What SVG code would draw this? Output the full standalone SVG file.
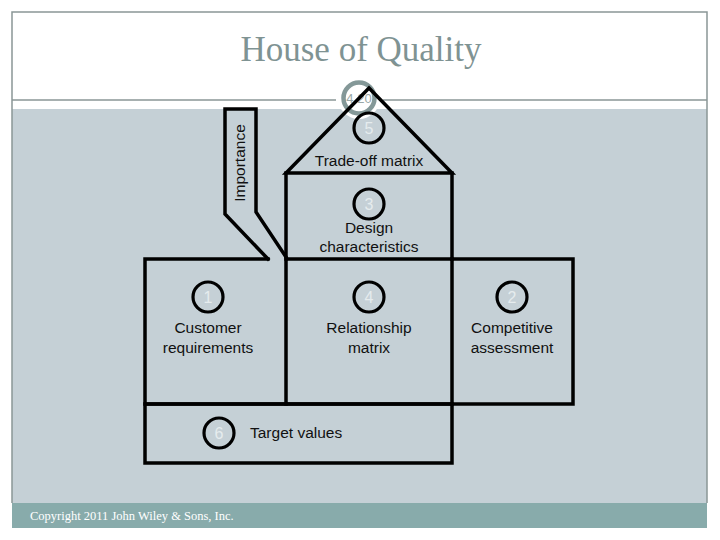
<svg xmlns="http://www.w3.org/2000/svg" width="720" height="540" viewBox="0 0 720 540">
<style>
.ln{fill:none;stroke:#000;stroke-width:3.5;stroke-linejoin:miter;stroke-linecap:square}
.c{fill:none;stroke:#000;stroke-width:3.2}
.num{font-family:"Liberation Sans",Arial,sans-serif;font-size:16px;fill:#e6ecee;text-anchor:middle}
.lbl{font-family:"Liberation Sans",Arial,sans-serif;font-size:15.5px;fill:#111;text-anchor:middle}
.lbl.start{text-anchor:start}
</style>
<rect x="0" y="0" width="720" height="540" fill="#fff"/>
<rect x="12" y="109" width="695" height="394" fill="#c5d0d6"/>
<rect x="12" y="503" width="695" height="25" fill="#88abab"/>
<g id="frame" fill="none" stroke="#8a9696" stroke-width="1.5">
<polyline points="12,503 12,12 707,12 707,503"/>
<line x1="12" y1="100" x2="336" y2="100"/>
<line x1="383" y1="100" x2="707" y2="100"/>
</g>
<text x="361" y="61" font-family="Liberation Serif,Times New Roman,serif" font-size="35" fill="#7f9393" text-anchor="middle">House of Quality</text>
<text x="30" y="520" font-family="Liberation Serif,Times New Roman,serif" font-size="12.5" fill="#ffffff">Copyright 2011 John Wiley &amp; Sons, Inc.</text>
<g id="marker420">
<circle cx="359" cy="98" r="21" fill="#fff"/>
<circle cx="359" cy="98" r="15.5" fill="#fff" stroke="#849898" stroke-width="4.5"/>
<text x="359" y="103" font-family="Liberation Sans,Arial,sans-serif" font-size="13" fill="#9aa8a8" text-anchor="middle">4.20</text>
</g>
<g id="importance">
<polyline class="ln" points="268,259 225,214 225,109 256,109 256,212 286,257"/>
<text transform="translate(245,163) rotate(-90)" class="lbl" font-size="16">Importance</text>
</g>
<g id="tradeoff">
<polygon class="ln" points="369,88 452,173 286,173"/>
<circle class="c" cx="369" cy="128" r="15"/>
<text class="num" x="369" y="134">5</text>
<text class="lbl" x="369" y="166">Trade-off matrix</text>
</g>
<g id="design">
<line class="ln" x1="286" y1="173" x2="286" y2="259"/>
<line class="ln" x1="452" y1="173" x2="452" y2="259"/>
<circle class="c" cx="369" cy="204" r="15"/>
<text class="num" x="369" y="210">3</text>
<text class="lbl" x="369" y="233">Design</text>
<text class="lbl" x="369" y="252">characteristics</text>
</g>
<g id="customer">
<polyline class="ln" points="268,259 145,259 145,404 286,404"/>
<circle class="c" cx="208" cy="297" r="15"/>
<text class="num" x="208" y="303">1</text>
<text class="lbl" x="208" y="333">Customer</text>
<text class="lbl" x="208" y="353">requirements</text>
</g>
<g id="relationship">
<polygon class="ln" points="286,259 452,259 452,404 286,404"/>
<circle class="c" cx="369" cy="297" r="15"/>
<text class="num" x="369" y="303">4</text>
<text class="lbl" x="369" y="333">Relationship</text>
<text class="lbl" x="369" y="353">matrix</text>
</g>
<g id="competitive">
<polyline class="ln" points="452,259 573,259 573,404 452,404"/>
<circle class="c" cx="512" cy="297" r="15"/>
<text class="num" x="512" y="303">2</text>
<text class="lbl" x="512" y="333">Competitive</text>
<text class="lbl" x="512" y="353">assessment</text>
</g>
<g id="target">
<polygon class="ln" points="145,404 452,404 452,463 145,463"/>
<circle class="c" cx="219" cy="433" r="15"/>
<text class="num" x="219" y="439">6</text>
<text class="lbl start" x="250" y="438">Target values</text>
</g>
<g id="connectors"/>
</svg>
